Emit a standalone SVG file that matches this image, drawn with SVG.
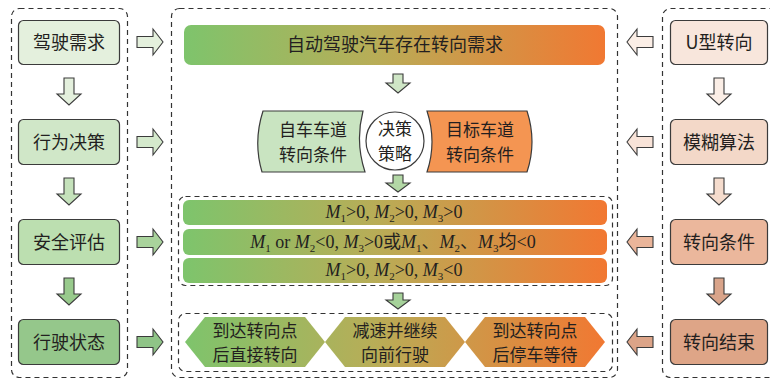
<svg xmlns="http://www.w3.org/2000/svg" width="770" height="378" viewBox="0 0 770 378">
<defs>
<linearGradient id="g1" gradientUnits="userSpaceOnUse" x1="184" y1="0" x2="606" y2="0">
<stop offset="0" stop-color="#7ec46c"/><stop offset="0.45" stop-color="#b8ad57"/><stop offset="1" stop-color="#f17832"/>
</linearGradient>
<linearGradient id="g2" gradientUnits="userSpaceOnUse" x1="185" y1="0" x2="605" y2="0">
<stop offset="0" stop-color="#7ec46c"/><stop offset="0.45" stop-color="#b8ad57"/><stop offset="1" stop-color="#f17832"/>
</linearGradient>
<style>
.dash{fill:none;stroke:#333;stroke-width:1.2;stroke-dasharray:5,4}
.node{stroke:#3b3b3b;stroke-width:1.2}
.arr{stroke:#3b3b3b;stroke-width:1.1}
.t{font-family:"Noto Sans CJK SC","Noto Sans",sans-serif;font-size:18px;fill:#231f20;text-anchor:middle}
.t2{font-family:"Noto Sans CJK SC","Noto Sans",sans-serif;font-size:17px;fill:#231f20;text-anchor:middle}
.m{font-family:"Liberation Serif","Noto Sans CJK SC",serif;font-size:18px;fill:#231f20;text-anchor:middle}
.i{font-style:italic}
.s{font-size:11px}
</style>
</defs>
<rect width="770" height="378" fill="#fff"/>
<g id="containers">
<rect class="dash" x="11.5" y="8.5" width="116" height="369" rx="8"/>
<rect class="dash" x="171.5" y="8.5" width="446" height="369" rx="8"/>
<rect class="dash" x="662.5" y="8.5" width="115" height="369" rx="8"/>
<rect class="dash" x="178.5" y="196.5" width="434" height="89" rx="7"/>
<rect class="dash" x="178.5" y="313.5" width="434" height="58" rx="7"/>
</g>
<g id="left-column">
<g id="n-jiashi"><rect class="node" x="18.5" y="20.5" width="101" height="44" rx="5" fill="#e4f0dd"/><text class="t" x="69" y="49">驾驶需求</text></g>
<g id="n-xingwei"><rect class="node" x="18.5" y="119.5" width="101" height="45" rx="5" fill="#d0e7c8"/><text class="t" x="69" y="149">行为决策</text></g>
<g id="n-anquan"><rect class="node" x="18.5" y="219.5" width="101" height="45" rx="5" fill="#bcdfb0"/><text class="t" x="69" y="249">安全评估</text></g>
<g id="n-xingshi"><rect class="node" x="18.5" y="319.5" width="101" height="45" rx="5" fill="#95c78b"/><text class="t" x="69" y="349">行驶状态</text></g>
</g>
<g id="right-column">
<g id="n-uturn"><rect class="node" x="670.5" y="20.5" width="97" height="44" rx="5" fill="#f8e6dc"/><text class="t" x="719" y="49">U型转向</text></g>
<g id="n-fuzzy"><rect class="node" x="670.5" y="119.5" width="97" height="45" rx="5" fill="#f3d8c8"/><text class="t" x="719" y="149">模糊算法</text></g>
<g id="n-cond"><rect class="node" x="670.5" y="219.5" width="97" height="45" rx="5" fill="#ebb79c"/><text class="t" x="719" y="249">转向条件</text></g>
<g id="n-end"><rect class="node" x="670.5" y="319.5" width="97" height="45" rx="5" fill="#dea587"/><text class="t" x="719" y="349">转向结束</text></g>
</g>
<g id="n-banner"><rect x="184" y="25" width="421" height="40" rx="7" fill="url(#g1)"/><text class="t" x="395" y="51">自动驾驶汽车存在转向需求</text></g>
<g id="n-own"><path class="node" d="M263,111 H363 Q355,142 365,172 H262 Q253,142 263,111 Z" fill="#c9e4c1"/><text class="t2" x="313" y="136">自车车道</text><text class="t2" x="313" y="161">转向条件</text></g>
<g id="n-strategy"><circle class="node" cx="395" cy="141" r="29" fill="#fff"/><text class="t2" x="395" y="135">决策</text><text class="t2" x="395" y="160">策略</text></g>
<g id="n-target"><path class="node" d="M427,111 H527 Q537,142 527,172 H427 Q437,142 427,111 Z" fill="#f49552"/><text class="t2" x="480" y="136">目标车道</text><text class="t2" x="480" y="161">转向条件</text></g>
<g id="n-conditions">
<rect x="183" y="200" width="424" height="25" rx="6" fill="url(#g2)"/>
<rect x="183" y="229" width="424" height="26" rx="6" fill="url(#g2)"/>
<rect x="183" y="258" width="424" height="25" rx="6" fill="url(#g2)"/>
<text class="m" x="394" y="218"><tspan class="i">M</tspan><tspan class="s" dy="4">1</tspan><tspan dy="-4">&gt;0, </tspan><tspan class="i">M</tspan><tspan class="s" dy="4">2</tspan><tspan dy="-4">&gt;0, </tspan><tspan class="i">M</tspan><tspan class="s" dy="4">3</tspan><tspan dy="-4">&gt;0</tspan></text>
<text class="m" x="393" y="248"><tspan class="i">M</tspan><tspan class="s" dy="4">1</tspan><tspan dy="-4"> or </tspan><tspan class="i">M</tspan><tspan class="s" dy="4">2</tspan><tspan dy="-4">&lt;0, </tspan><tspan class="i">M</tspan><tspan class="s" dy="4">3</tspan><tspan dy="-4">&gt;0或</tspan><tspan class="i">M</tspan><tspan class="s" dy="4">1</tspan><tspan dy="-4">、</tspan><tspan class="i">M</tspan><tspan class="s" dy="4">2</tspan><tspan dy="-4">、</tspan><tspan class="i">M</tspan><tspan class="s" dy="4">3</tspan><tspan dy="-4">均&lt;0</tspan></text>
<text class="m" x="394" y="276"><tspan class="i">M</tspan><tspan class="s" dy="4">1</tspan><tspan dy="-4">&gt;0, </tspan><tspan class="i">M</tspan><tspan class="s" dy="4">2</tspan><tspan dy="-4">&gt;0, </tspan><tspan class="i">M</tspan><tspan class="s" dy="4">3</tspan><tspan dy="-4">&lt;0</tspan></text>
</g>
<g id="n-outcomes">
<polygon points="185,342 205,317 305,317 325,342 305,367 205,367" fill="url(#g2)"/>
<polygon points="325,342 345,317 445,317 465,342 445,367 345,367" fill="url(#g2)"/>
<polygon points="465,342 485,317 585,317 605,342 585,367 485,367" fill="url(#g2)"/>
<text class="t2" x="255" y="337">到达转向点</text><text class="t2" x="255" y="361">后直接转向</text>
<text class="t2" x="395" y="337">减速并继续</text><text class="t2" x="395" y="361">向前行驶</text>
<text class="t2" x="535" y="337">到达转向点</text><text class="t2" x="535" y="361">后停车等待</text>
</g>
<g id="connectors">
<path class="arr" fill="#e4f0dd" d="M137,36.5 H153 V29 L163,42 L153,55 V47.5 H137 Z"/>
<path class="arr" fill="#d4e9cc" d="M137,136.5 H153 V129 L163,142 L153,155 V147.5 H137 Z"/>
<path class="arr" fill="#a9d39c" d="M137,236.5 H153 V229 L163,242 L153,255 V247.5 H137 Z"/>
<path class="arr" fill="#8fc487" d="M137,336.5 H153 V329 L163,342 L153,355 V347.5 H137 Z"/>
<path class="arr" fill="#fbeee6" d="M653,36.5 H637 V29 L627,42 L637,55 V47.5 H653 Z"/>
<path class="arr" fill="#f8e3d8" d="M653,136.5 H637 V129 L627,142 L637,155 V147.5 H653 Z"/>
<path class="arr" fill="#eab59a" d="M653,236.5 H637 V229 L627,242 L637,255 V247.5 H653 Z"/>
<path class="arr" fill="#dca488" d="M653,336.5 H637 V329 L627,342 L637,355 V347.5 H653 Z"/>
<path class="arr" fill="#e4f0dd" d="M64,78 H74 V94 H81 L69,105 L57,94 H64 Z"/>
<path class="arr" fill="#c5e2bb" d="M64,178 H74 V194 H81 L69,205 L57,194 H64 Z"/>
<path class="arr" fill="#98ca8c" d="M64,278 H74 V294 H81 L69,305 L57,294 H64 Z"/>
<path class="arr" fill="#fbeee6" d="M714,78 H724 V94 H731 L719,105 L707,94 H714 Z"/>
<path class="arr" fill="#f5dccd" d="M714,178 H724 V194 H731 L719,205 L707,194 H714 Z"/>
<path class="arr" fill="#d9a48a" d="M714,278 H724 V294 H731 L719,305 L707,294 H714 Z"/>
<path class="arr" fill="#cfe6c6" d="M393,74 H403 V83 H410 L398,93 L386,83 H393 Z"/>
<path class="arr" fill="#b3d8a6" d="M393,175 H403 V183 H410 L398,192 L386,183 H393 Z"/>
<path class="arr" fill="#a6d29a" d="M393,293 H403 V300 H410 L398,309 L386,300 H393 Z"/>
</g>
</svg>
